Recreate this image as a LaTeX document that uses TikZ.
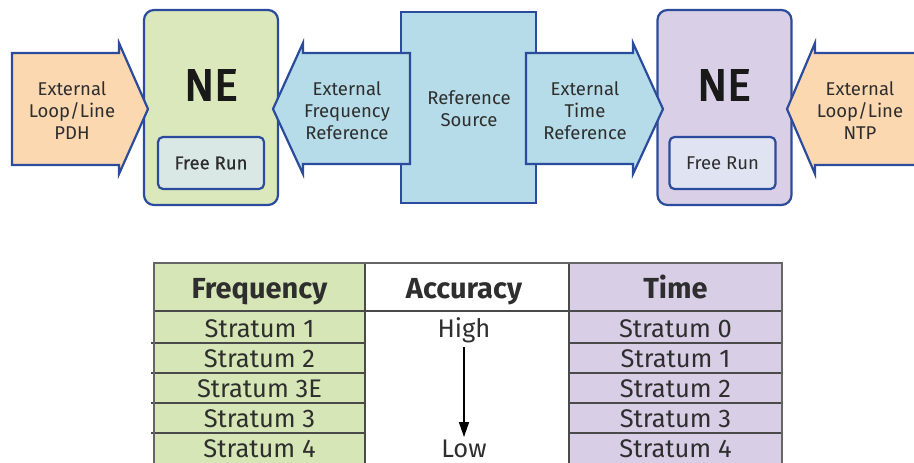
\documentclass[tikz,border=0pt]{standalone}
\usepackage{fontspec}
\setmainfont{Fira Sans}
\newfontfamily\medfont[FakeBold=0.6]{Fira Sans}
\newfontfamily\heavyfont[FakeBold=3.5]{Fira Sans}
\usetikzlibrary{arrows.meta}

\definecolor{edge}{HTML}{2B4C9C}
\definecolor{peach}{HTML}{FCD8B0}
\definecolor{negreen}{HTML}{DAE8BC}
\definecolor{frgreen}{HTML}{D9E8E4}
\definecolor{refblue}{HTML}{B5DCE8}
\definecolor{nepurple}{HTML}{D9CFE6}
\definecolor{frpurple}{HTML}{DFE3F2}
\definecolor{tgreen}{HTML}{D7E6B6}
\definecolor{tpurple}{HTML}{D8CEE6}
\definecolor{txt}{HTML}{2E2E2E}
\definecolor{grid}{HTML}{4A4A4A}
\definecolor{frame}{HTML}{666666}

\begin{document}
\begin{tikzpicture}[x=1pt,y=-1pt,
  outline/.style={draw=edge, line width=2.2pt, line join=miter},
  nebox/.style={outline, rounded corners=10pt, inner sep=0pt, minimum width=134pt, minimum height=195pt},
  runbox/.style={outline, rounded corners=5pt, inner sep=0pt, minimum width=106pt, minimum height=52pt,
                 text=txt, font=\fontsize{18.5}{20}\selectfont},
  srcbox/.style={outline, inner sep=0pt, minimum width=135pt, minimum height=191pt},
  label/.style={text=txt, font=\fontsize{18.5}{22}\selectfont, align=center, inner sep=0pt},
  bigtitle/.style={text=black!90, font=\fontsize{44}{44}\selectfont\heavyfont, inner sep=0pt},
  head/.style={text=txt, font=\fontsize{29}{29}\selectfont\bfseries, inner sep=0pt, text height=19.5pt, text depth=0pt},
  cell/.style={text=txt, font=\fontsize{25.5}{26}\selectfont, inner sep=0pt, text height=17.5pt, text depth=0pt},
  rowline/.style={draw=grid, line width=1.2pt},
]
\useasboundingbox (0,0) rectangle (914,463);
\clip (0,0) rectangle (914,463);

% network elements and the reference source
\node[nebox, fill=negreen] (ne1) at (211,107.5) {};
\node[nebox, fill=nepurple] (ne2) at (724.5,107.5) {};
\node[srcbox, fill=refblue] (src) at (468.5,107.5) {};

% block arrows
\draw[outline, fill=peach] (12,53) -- (119,53) -- (119,43) -- (148,109) -- (119,174) -- (119,165) -- (12,165) -- cycle;
\draw[outline, fill=refblue] (410,53) -- (303,53) -- (303,43) -- (273,109) -- (303,174) -- (303,164) -- (410,164) -- cycle;
\draw[outline, fill=refblue] (526,53) -- (633,53) -- (633,43) -- (663,109) -- (633,174) -- (633,164) -- (526,164) -- cycle;
\draw[outline, fill=peach] (925,53) -- (815,53) -- (815,43) -- (787,109) -- (815,174) -- (815,165) -- (925,165) -- cycle;

% texts of the upper part
\node[label] (pdh) at (72,111) {External\\Loop/Line\\PDH};
\node[label] (freqref) at (347,111) {External\\Frequency\\Reference};
\node[label] (srclabel) at (469,109) {Reference\\Source};
\node[label] (timeref) at (585,111) {External\\Time\\Reference};
\node[label] (ntp) at (860,111) {External\\Loop/Line\\NTP};

\node[bigtitle] (ne1title) at (211,85) {NE};
\node[bigtitle] (ne2title) at (724,85) {NE};

\node[runbox, fill=frgreen] (run1) at (211,163) {\medfont Free Run};
\node[runbox, fill=frpurple] (run2) at (722.5,163) {Free Run};

% comparison table
\fill[tgreen] (154,263) rectangle (365,475);
\fill[tpurple] (569,263) rectangle (782,475);
\draw[rowline] (154,311) -- (782,311);
\foreach \y in {343,373,403,433} {
  \draw[rowline] (151,\y) -- (365,\y);
  \draw[rowline] (569,\y) -- (782,\y);
}
\draw[rowline] (365,263) -- (365,475);
\draw[rowline] (569,263) -- (569,475);
\draw[draw=frame, line width=2pt] (154,475) -- (154,263) -- (782,263) -- (782,475);

\node[head] (hfreq) at (259.5,289) {Frequency};
\node[head] (hacc) at (464,289) {Accuracy};
\node[head] (htime) at (675.5,289) {Time};

\foreach \t [count=\i] in {Stratum 1,Stratum 2,Stratum 3E,Stratum 3,Stratum 4} {
  \node[cell] (f\i) at (259.5,299+30*\i) {\t};
}
\foreach \t [count=\i] in {Stratum 0,Stratum 1,Stratum 2,Stratum 3,Stratum 4} {
  \node[cell] (t\i) at (675.5,299+30*\i) {\t};
}
\node[cell] (high) at (464,329) {High};
\node[cell] (low) at (464,449) {Low};
\draw[line width=1.4pt, -{Triangle[length=15pt,width=10pt]}] ([yshift=-9pt]high.south) -- ([yshift=3pt]low.north);
\end{tikzpicture}
\end{document}
